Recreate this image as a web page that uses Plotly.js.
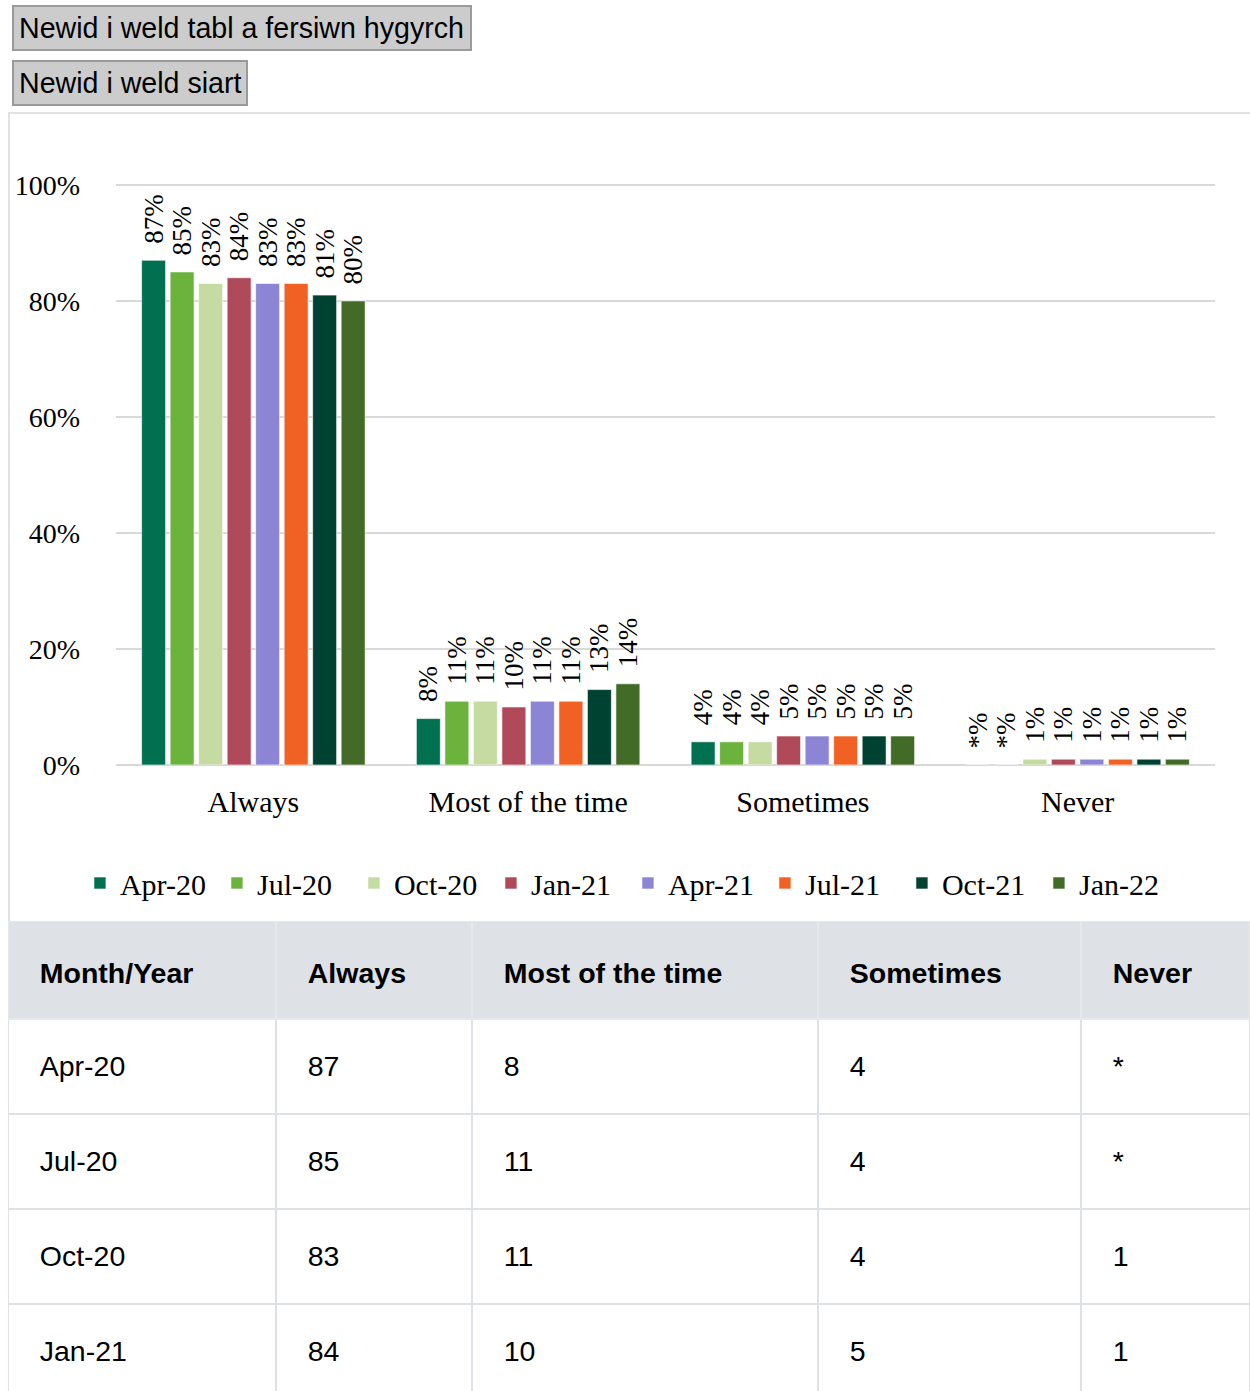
<!DOCTYPE html>
<html>
<head>
<meta charset="utf-8">
<script src="https://cdn.plot.ly/plotly-3.0.1.min.js"></script>
<style>
  html, body { margin: 0; padding: 0; background: #fff; overflow: hidden; width: 1250px; height: 1391px; }
  .btn { position: absolute; left: 12px; height: 46px; box-sizing: border-box; background: #cccccc; border: 2px solid #9a9a9a;
         font-family: "Liberation Sans", Arial, sans-serif; font-size: 28.6px; color: #000; padding: 0 5px; line-height: 42px; white-space: nowrap; }
  #frame { position: absolute; left: 8px; top: 112px; width: 1270px; height: 812px; box-sizing: border-box;
           border-left: 2px solid #e2e2e2; border-top: 2px solid #e2e2e2; }
  #chart { position: absolute; left: 10px; top: 114px; width: 1240px; height: 807px; }
  #table { position: absolute; left: 8px; top: 921px; width: 1242px; height: 870px; }
</style>
</head>
<body>
<div class="btn" style="top:5px; width:460px;">Newid i weld tabl a fersiwn hygyrch</div>
<div class="btn" style="top:60px; width:236px;">Newid i weld siart</div>
<div id="frame"></div>
<div id="chart"></div>
<div id="table"></div>
<script>
// ---- data ----
const categories = ["Always", "Most of the time", "Sometimes", "Never"];
const months = ["Apr-20", "Jul-20", "Oct-20", "Jan-21", "Apr-21", "Jul-21", "Oct-21", "Jan-22"];
const always        = [87, 85, 83, 84, 83, 83, 81, 80];
const mostOfTheTime = [8, 11, 11, 10, 11, 11, 13, 14];
const sometimes     = [4, 4, 4, 5, 5, 5, 5, 5];
const never         = [null, null, 1, 1, 1, 1, 1, 1];   // null shown as "*"
const yTicks = [0, 20, 40, 60, 80, 100];
const yTickText = ["0%", "20%", "40%", "60%", "80%", "100%"];
const colors = ["#007050", "#6cb33e", "#c5dba1", "#b04a5a", "#8c85d6", "#f26124", "#004232", "#436b28"];

const serif = '"Liberation Serif", "Times New Roman", serif';
const sans = '"Liberation Sans", Arial, sans-serif';

const seriesByCat = [always, mostOfTheTime, sometimes, never];

const traces = months.map((m, i) => {
  const vals = seriesByCat.map(s => s[i]);
  return {
    type: "bar",
    name: m,
    x: categories,
    y: vals.map(v => v == null ? 0 : v),
    text: vals.map(v => "\u2002" + (v == null ? "*" : v) + "%"),
    textposition: "outside",
    textangle: -90,
    constraintext: "none",
    cliponaxis: false,
    textfont: { family: serif, size: 27, color: "#000" },
    marker: { color: colors[i], line: { color: "rgba(255,255,255,0.6)", width: 1 } },
    hoverinfo: "skip"
  };
});

const layout = {
  width: 1240, height: 807,
  margin: { l: 106, r: 35, t: 68, b: 156 },
  paper_bgcolor: "#fff", plot_bgcolor: "#fff",
  barmode: "group", bargap: 0.17, bargroupgap: 0.16,
  showlegend: true,
  legend: { orientation: "h", x: -0.0328, xanchor: "left", y: -0.2024, yanchor: "middle",
            entrywidth: 92, entrywidthmode: "pixels",
            font: { family: serif, size: 30, color: "#000" }, itemwidth: 30, traceorder: "normal" },
  xaxis: { type: "category", tickfont: { family: serif, size: 30, color: "#000" }, ticks: "", showline: false,
           ticklabelstandoff: 16, fixedrange: true },
  yaxis: { range: [0, 100.5], tickvals: yTicks, ticktext: yTickText, tickfont: { family: serif, size: 28, color: "#000" },
           gridcolor: "#d9d9d9", gridwidth: 2, zeroline: true, zerolinecolor: "#d9d9d9", zerolinewidth: 2,
           ticks: "", ticklabelstandoff: 35, fixedrange: true },
  font: { family: serif, color: "#000" }
};

Plotly.newPlot("chart", traces, layout, { displayModeBar: false, staticPlot: true });

// ---- table ----
const pad = "\u00a0\u00a0\u00a0";
const header = ["Month/Year", "Always", "Most of the time", "Sometimes", "Never"];
const fmt = v => (v == null ? "*" : String(v));
const tableTrace = {
  type: "table",
  columnwidth: [268, 196, 346, 263, 169],
  header: {
    values: header.map(h => pad + "<b>" + h + "</b>"),
    align: "left", height: 98,
    fill: { color: "#dee2e6" },
    line: { color: "#e6e9ec", width: 2 },
    font: { family: sans, size: 28.5, color: "#000" }
  },
  cells: {
    values: [months, always, mostOfTheTime, sometimes, never].map(col => col.map(v => pad + fmt(v))),
    align: "left", height: 95,
    fill: { color: "#fff" },
    line: { color: "#dee2e6", width: 2 },
    font: { family: sans, size: 28.5, color: "#000" }
  }
};

function centerTableText() {
  document.querySelectorAll("#table .cell-text-holder").forEach(el => {
    if (el.getAttribute("data-shifted")) return;
    const t = el.getAttribute("transform") || "";
    el.setAttribute("transform", t + " translate(0,28)");
    el.setAttribute("data-shifted", "1");
  });
}
Plotly.newPlot("table", [tableTrace], { width: 1242, height: 870, margin: { l: 0, r: 0, t: 0, b: 0 }, paper_bgcolor: "#fff" },
  { displayModeBar: false, staticPlot: true }).then(() => {
    centerTableText();
    setTimeout(centerTableText, 50);
  });
</script>
</body>
</html>
